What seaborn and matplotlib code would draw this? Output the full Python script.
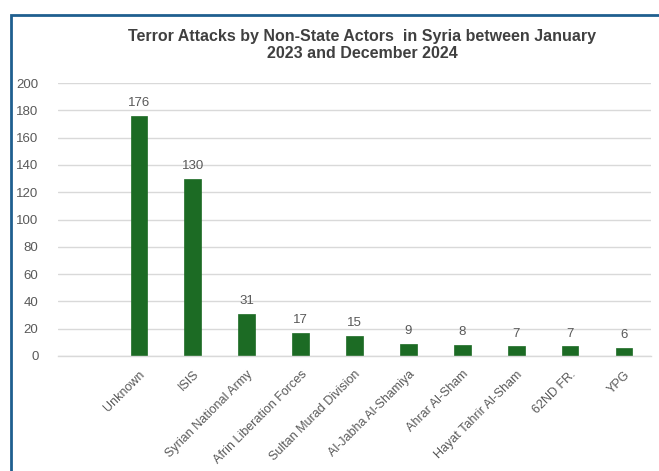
import matplotlib
matplotlib.use("Agg")
import matplotlib.pyplot as plt
import seaborn as sns
import pandas as pd
from matplotlib.patches import Rectangle

categories = ["Unknown", "ISIS", "Syrian National Army", "Afrin Liberation Forces",
              "Sultan Murad Division", "Al-Jabha Al-Shamiya", "Ahrar Al-Sham",
              "Hayat Tahrir Al-Sham", "62ND FR.", "YPG"]
attacks = [176, 130, 31, 17, 15, 9, 8, 7, 7, 6]
yticks = [0, 20, 40, 60, 80, 100, 120, 140, 160, 180, 200]
title = "Terror Attacks by Non-State Actors  in Syria between January\n2023 and December 2024"

sns.set_style("white")
plt.rcParams['font.family'] = ['Liberation Sans', 'DejaVu Sans']

df = pd.DataFrame({"actor": categories, "attacks": attacks})
order = [" "] + categories

fig = plt.figure(figsize=(6.59, 4.71), dpi=100)
W, H = 659, 471
ax = fig.add_axes([58 / W, 1 - 356 / H, (651 - 58) / W, (356 - 83) / H])

sns.barplot(data=df, x="actor", y="attacks", order=order, color="#1c6b24",
            saturation=1, width=0.31, ax=ax, edgecolor="#1c6b24", linewidth=0.5)

ax.set_ylim(0, 200)
ax.set_xlim(-0.5, len(order) - 0.5)
ax.set_yticks(yticks)
ax.yaxis.grid(True, color="#d9d9d9", linewidth=1)
ax.set_axisbelow(True)
for s in ["top", "right", "left"]:
    ax.spines[s].set_visible(False)
ax.spines["bottom"].set_color("#d9d9d9")
ax.spines["bottom"].set_linewidth(1)
ax.tick_params(axis="both", length=0, colors="#595959")
ax.tick_params(axis="y", labelsize=9.5, pad=14)
ax.tick_params(axis="x", labelsize=9, pad=9)
ax.set_xlabel("")
ax.set_ylabel("")
plt.setp(ax.get_xticklabels(), rotation=45, ha="right", rotation_mode="anchor")

for c in ax.containers:
    ax.bar_label(c, labels=[f"{int(v)}" for v in c.datavalues], padding=5,
                 fontsize=9.5, color="#595959")

fig.text(362 / W, 1 - 45 / H, title, ha="center", va="center", fontsize=11.5,
         fontweight="bold", color="#404040", linespacing=1.25)

fig.patches.append(Rectangle((10.5 / W, -0.1), 1.2, 1 - 15 / H + 0.1, transform=fig.transFigure,
                             fill=False, edgecolor="#1f5f8f", linewidth=2, zorder=10))

fig.savefig("out.png", dpi=100)
